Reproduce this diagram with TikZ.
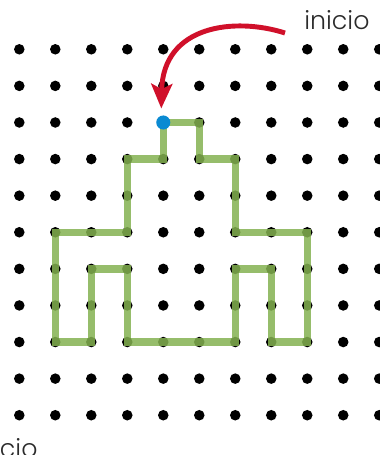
\documentclass[tikz,border=0pt]{standalone}
\usepackage{fontspec}
\newfontfamily\labelfont{Poppins}[UprightFont=* Light]
\usetikzlibrary{arrows.meta}
\definecolor{ink}{HTML}{2B2B2B}
\definecolor{trailgreen}{HTML}{84B251}
\definecolor{startblue}{HTML}{0A8AD2}
\definecolor{pointred}{HTML}{D0102A}

\begin{document}
\begin{tikzpicture}[x=0.02cm,y=-0.02cm,
    labeltext/.style={font=\labelfont\fontsize{14.4}{16}\selectfont,text=ink,inner sep=0pt},
    trail/.style={line width=4.2pt,trailgreen,opacity=0.85},
    pointer/.style={-{Stealth[length=14pt,width=12pt,inset=3pt]},line width=2.8pt,pointred}]
  \useasboundingbox (0,0) rectangle (379,455);

  % Dot grid, 11 by 11, and the closed figure traced on it.
  \begin{scope}[shift={(19.3,49.3)},x=0.72cm,y=-0.732cm]
    \foreach \c in {0,...,10}
      \foreach \r in {0,...,10}
        \fill (\c,\r) circle (3pt);
    \draw[trail] (4,2) -- (5,2) -- (5,3) -- (6,3) -- (6,5) -- (8,5) -- (8,8)
      -- (7,8) -- (7,6) -- (6,6) -- (6,8) -- (3,8) -- (3,6) -- (2,6) -- (2,8)
      -- (1,8) -- (1,5) -- (3,5) -- (3,3) -- (4,3) -- cycle;
    \coordinate (start) at (4,2);
    \fill[startblue] (start) circle (4pt);
  \end{scope}

  \node[labeltext,anchor=base west] (inicio) at (304,30) {inicio};
  \draw[pointer] ([shift={(-19,3)}]inicio.base west)
    .. controls (235,17) and (163,25) .. ([shift={(-2,-14)}]start);

  % Second label, mostly cut off by the lower edge.
  \node[labeltext,anchor=base west] (iniciolow) at (-28,457) {inicio};
\end{tikzpicture}
\end{document}
